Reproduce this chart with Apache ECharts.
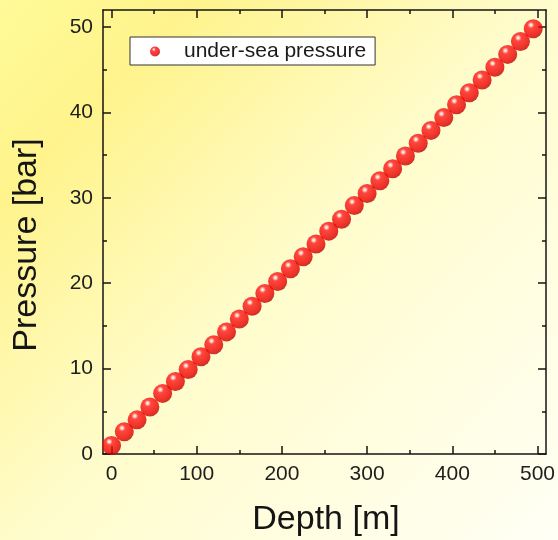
<!DOCTYPE html>
<html>
<head>
    <meta charset="UTF-8">
    <script src="https://cdn.jsdelivr.net/npm/echarts@6/dist/echarts.min.js"></script>
    <title>Under-sea pressure</title>
    <style>
        html, body { margin: 0; padding: 0; }
        #main { width: 558px; height: 540px; }
    </style>
</head>
<body>
    <div id="main"></div>

    <script type="text/javascript">
        // data
        var depth = [0, 15, 30, 45, 60, 75, 90, 105, 120, 135, 150, 165, 180, 195, 210, 225, 240,
                     255, 270, 285, 300, 315, 330, 345, 360, 375, 390, 405, 420, 435, 450, 465, 480, 495];
        var pressure = [1.0, 2.6, 4.0, 5.5, 7.1, 8.5, 9.9, 11.4, 12.8, 14.3, 15.8, 17.3, 18.8, 20.2, 21.7, 23.1, 24.6,
                        26.1, 27.5, 29.1, 30.5, 32.0, 33.4, 34.9, 36.4, 37.9, 39.4, 40.9, 42.3, 43.8, 45.3, 46.8, 48.3, 49.8];

        var xRange = [-10, 510];
        var yRange = [0, 52];
        var xMajor = [0, 100, 200, 300, 400, 500];
        var xMinor = [50, 150, 250, 350, 450];
        var yMajor = [0, 10, 20, 30, 40, 50];
        var yMinor = [5, 15, 25, 35, 45];

        var seriesName = 'under-sea pressure';
        var xTitle = 'Depth [m]';
        var yTitle = 'Pressure [bar]';

        var FONT = '"Liberation Sans", Arial, sans-serif';
        var INK = '#151515';

        var points = depth.map(function (d, i) { return [d, pressure[i]]; });

        // one axis = one side of the frame; minor ticks go on a second, line-less axis
        function axis(pos, range, ticks, len, labels, line) {
            return {
                type: 'value',
                position: pos,
                min: range[0],
                max: range[1],
                axisLine: { show: line, onZero: false, lineStyle: { color: INK, width: 1.5 } },
                axisTick: { show: true, inside: true, length: len, customValues: ticks,
                            lineStyle: { color: INK, width: 1.5 } },
                axisLabel: labels ? { show: true, customValues: ticks, margin: 10, fontSize: 21,
                                      color: '#1e1e1e', fontFamily: FONT } : { show: false },
                splitLine: { show: false },
                minorTick: { show: false }
            };
        }

        var sphere = {
            type: 'radial', x: 0.38, y: 0.3, r: 0.78,
            colorStops: [
                { offset: 0, color: '#ffffff' },
                { offset: 0.08, color: '#ffcccc' },
                { offset: 0.22, color: '#ff1a1a' },
                { offset: 0.7, color: '#ea0000' },
                { offset: 1, color: '#a80000' }
            ]
        };

        var chart = echarts.init(document.getElementById('main'));
        chart.setOption({
            animation: false,
            backgroundColor: {
                type: 'linear', x: 0, y: 0, x2: 1, y2: 1,
                colorStops: [
                    { offset: 0, color: '#fffb98' },
                    { offset: 0.18, color: '#fff38c' },
                    { offset: 0.5, color: '#fffccb' },
                    { offset: 1, color: '#fffff6' }
                ]
            },
            grid: { left: 103, right: 10, top: 10, bottom: 86 },
            xAxis: [
                axis('bottom', xRange, xMajor, 8, true, true),
                axis('bottom', xRange, xMinor, 4, false, false),
                axis('top', xRange, xMajor, 8, false, true),
                axis('top', xRange, xMinor, 4, false, false)
            ],
            yAxis: [
                axis('left', yRange, yMajor, 8, true, true),
                axis('left', yRange, yMinor, 4, false, false),
                axis('right', yRange, yMajor, 8, false, true),
                axis('right', yRange, yMinor, 4, false, false)
            ],
            legend: {
                left: 130,
                top: 37,
                padding: [4, 9, 3, 20],
                itemWidth: 48,
                itemHeight: 10,
                itemGap: 0,
                icon: 'circle',
                backgroundColor: '#ffffff',
                borderColor: '#333',
                borderWidth: 1,
                borderRadius: 0,
                textStyle: { fontSize: 21, color: '#1a1a1a', fontFamily: FONT },
                data: [seriesName]
            },
            graphic: [
                {
                    type: 'text', x: 326, y: 520,
                    style: { text: xTitle, font: '34px ' + FONT, fill: INK,
                             textAlign: 'center', textVerticalAlign: 'middle',
                             align: 'center', verticalAlign: 'middle' }
                },
                {
                    type: 'text', x: 27, y: 245, rotation: Math.PI / 2,
                    style: { text: yTitle, font: '34px ' + FONT, fill: INK,
                             textAlign: 'center', textVerticalAlign: 'middle',
                             align: 'center', verticalAlign: 'middle' }
                }
            ],
            series: [{
                name: seriesName,
                type: 'scatter',
                xAxisIndex: 0,
                yAxisIndex: 0,
                symbol: 'circle',
                symbolSize: 19,
                itemStyle: { color: sphere },
                emphasis: { disabled: true },
                data: points,
                z: 5
            }]
        });
    </script>
</body>
</html>
